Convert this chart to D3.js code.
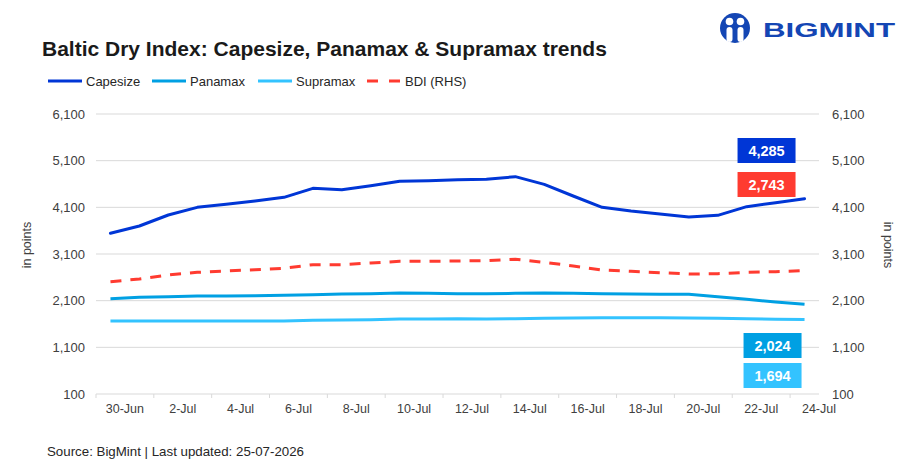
<!DOCTYPE html>
<html>
<head>
<meta charset="utf-8">
<script src="https://cdn.jsdelivr.net/npm/d3@7"></script>
<style>
  body { margin: 0; background: #fff; }
  svg text { font-family: "Liberation Sans", Arial, sans-serif; }
</style>
</head>
<body>
<div id="chart"></div>
<script>
// dates on the category axis
var dates = ["30-Jun","1-Jul","2-Jul","3-Jul","4-Jul","5-Jul","6-Jul","7-Jul","8-Jul","9-Jul",
  "10-Jul","11-Jul","12-Jul","13-Jul","14-Jul","15-Jul","16-Jul","17-Jul","18-Jul","19-Jul",
  "20-Jul","21-Jul","22-Jul","23-Jul","24-Jul"];

var capesize = [3543,3700,3936,4100,4164,4236,4314,4507,4479,4564,4657,4671,4693,4700,4757,
  4593,4343,4100,4021,3957,3893,3929,4114,4200,4285];
var panamax = [2143,2171,2186,2200,2200,2207,2214,2229,2243,2250,2264,2257,2250,2250,2257,
  2264,2257,2250,2243,2236,2236,2186,2129,2071,2024];
var supramax = [1664,1664,1664,1664,1664,1664,1664,1679,1686,1693,1707,1707,1714,1707,1714,
  1721,1729,1736,1736,1736,1729,1721,1714,1700,1694];
var bdi = [2507,2564,2650,2707,2736,2764,2793,2871,2871,2907,2943,2943,2950,2957,2986,
  2921,2843,2757,2729,2700,2671,2679,2707,2721,2743];

var yTicks = [100,1100,2100,3100,4100,5100,6100];

var colCape = "#0036d6", colPana = "#00a0e3", colSupra = "#33c3ff", colBdi = "#ff3b30";

var width = 911, height = 471;

var svg = d3.select("#chart").append("svg")
  .attr("width", width)
  .attr("height", height);

var x = d3.scaleBand()
  .domain(dates)
  .range([96, 819]);

var y = d3.scaleLinear()
  .domain([100, 6100])
  .range([394, 114]);

// right axis uses same range
var y2 = d3.scaleLinear()
  .domain([100, 6100])
  .range([394, 114]);

var fmt = d3.format(",");

// gridlines
svg.append("g")
  .selectAll("line")
  .data(yTicks.slice(1))
  .enter().append("line")
  .attr("x1", 96)
  .attr("x2", 819)
  .attr("y1", function(d){ return y(d); })
  .attr("y2", function(d){ return y(d); })
  .attr("stroke", "#d9d9d9")
  .attr("stroke-width", 1);

// x axis baseline + ticks every 2 categories
var xg = svg.append("g");
xg.append("line")
  .attr("x1", 96).attr("x2", 819)
  .attr("y1", y(100)).attr("y2", y(100))
  .attr("stroke", "#d9d9d9");

var evenDates = dates.filter(function(d, i){ return i % 2 == 0; });

xg.selectAll(".tk")
  .data(evenDates)
  .enter().append("line")
  .attr("class", "tk")
  .attr("x1", function(d){ return x(d); })
  .attr("x2", function(d){ return x(d); })
  .attr("y1", y(100))
  .attr("y2", y(100) + 4)
  .attr("stroke", "#d9d9d9");

xg.selectAll(".xl")
  .data(evenDates)
  .enter().append("text")
  .attr("class", "xl")
  .attr("x", function(d){ return x(d) + x.step(); })
  .attr("y", 413)
  .attr("text-anchor", "middle")
  .style("font-size", "12.5px")
  .attr("fill", "#404040")
  .text(function(d){ return d; });

// left axis labels
svg.append("g")
  .selectAll("text")
  .data(yTicks)
  .enter().append("text")
  .attr("x", 85)
  .attr("y", function(d){ return y(d) + 4.5; })
  .attr("text-anchor", "end")
  .style("font-size", "13px")
  .attr("fill", "#404040")
  .text(function(d){ return fmt(d); });

// right axis labels
svg.append("g")
  .selectAll("text")
  .data(yTicks)
  .enter().append("text")
  .attr("x", 832)
  .attr("y", function(d){ return y2(d) + 4.5; })
  .attr("text-anchor", "start")
  .style("font-size", "13px")
  .attr("fill", "#404040")
  .text(function(d){ return fmt(d); });

// axis titles
svg.append("text")
  .attr("transform", "translate(31,245) rotate(-90)")
  .attr("text-anchor", "middle")
  .style("font-size", "12.5px")
  .attr("fill", "#404040")
  .text("in points");

svg.append("text")
  .attr("transform", "translate(884,245) rotate(90)")
  .attr("text-anchor", "middle")
  .style("font-size", "12.5px")
  .attr("fill", "#404040")
  .text("in points");

// lines
function cx(i){ return x(dates[i]) + x.bandwidth() / 2; }

var line = d3.line()
  .x(function(d, i){ return cx(i); })
  .y(function(d){ return y(d); });

var line2 = d3.line()
  .x(function(d, i){ return cx(i); })
  .y(function(d){ return y2(d); });

svg.append("path").datum(supramax)
  .attr("d", line).attr("fill", "none")
  .attr("stroke", colSupra).attr("stroke-width", 3);

svg.append("path").datum(panamax)
  .attr("d", line).attr("fill", "none")
  .attr("stroke", colPana).attr("stroke-width", 3);

svg.append("path").datum(capesize)
  .attr("d", line).attr("fill", "none")
  .attr("stroke", colCape).attr("stroke-width", 3)
  .attr("stroke-linejoin", "round").attr("stroke-linecap", "round");

svg.append("path").datum(bdi)
  .attr("d", line2).attr("fill", "none")
  .attr("stroke", colBdi).attr("stroke-width", 3)
  .attr("stroke-dasharray", "11,9");

// last-value boxes
var last = dates.length - 1;
var boxes = [
  { v: capesize[last], c: colCape, dx: -67, y: 138 },
  { v: bdi[last], c: colBdi, dx: -67, y: 172 },
  { v: panamax[last], c: colPana, dx: -61, y: 333 },
  { v: supramax[last], c: colSupra, dx: -61, y: 363 }
];

var bx = svg.append("g").selectAll("g")
  .data(boxes)
  .enter().append("g");

bx.append("rect")
  .attr("x", function(d){ return cx(last) + d.dx; })
  .attr("y", function(d){ return d.y; })
  .attr("width", 58)
  .attr("height", 25)
  .attr("fill", function(d){ return d.c; });

bx.append("text")
  .attr("x", function(d){ return cx(last) + d.dx + 29; })
  .attr("y", function(d){ return d.y + 17.5; })
  .attr("text-anchor", "middle")
  .style("font-size", "14.5px")
  .style("font-weight", "bold")
  .attr("fill", "#fff")
  .text(function(d){ return fmt(d.v); });

// title
svg.append("text")
  .attr("x", 42)
  .attr("y", 56)
  .style("font-size", "21px")
  .style("font-weight", "bold")
  .attr("fill", "#1a1a1a")
  .text("Baltic Dry Index: Capesize, Panamax & Supramax trends");

// legend
var legend = [
  { name: "Capesize", c: colCape, x: 48, dash: null },
  { name: "Panamax", c: colPana, x: 152, dash: null },
  { name: "Supramax", c: colSupra, x: 258, dash: null },
  { name: "BDI (RHS)", c: colBdi, x: 367, dash: "11,11" }
];

var lg = svg.append("g").selectAll("g")
  .data(legend)
  .enter().append("g");

lg.append("line")
  .attr("x1", function(d){ return d.x; })
  .attr("x2", function(d){ return d.x + 34; })
  .attr("y1", 81).attr("y2", 81)
  .attr("stroke", function(d){ return d.c; })
  .attr("stroke-width", 3)
  .attr("stroke-dasharray", function(d){ return d.dash; });

lg.append("text")
  .attr("x", function(d){ return d.x + 38; })
  .attr("y", 85.5)
  .style("font-size", "13px")
  .attr("fill", "#262626")
  .text(function(d){ return d.name; });

// source
svg.append("text")
  .attr("x", 47)
  .attr("y", 456)
  .style("font-size", "13.3px")
  .attr("fill", "#262626")
  .text("Source: BigMint | Last updated: 25-07-2026");

// logo
var logo = svg.append("g");
logo.append("circle")
  .attr("cx", 735).attr("cy", 28).attr("r", 15)
  .attr("fill", "#1446b4");
logo.append("circle").attr("cx", 729.5).attr("cy", 21.5).attr("r", 3.8).attr("fill", "#fff");
logo.append("circle").attr("cx", 740.5).attr("cy", 21.5).attr("r", 3.8).attr("fill", "#fff");
logo.append("rect").attr("x", 726.5).attr("y", 27).attr("width", 6).attr("height", 15).attr("rx", 3).attr("fill", "#fff");
logo.append("rect").attr("x", 737.5).attr("y", 27).attr("width", 6).attr("height", 15).attr("rx", 3).attr("fill", "#fff");
logo.append("text")
  .attr("x", 763)
  .attr("y", 37)
  .style("font-size", "21px")
  .style("font-weight", "bold")
  .attr("textLength", 132)
  .attr("lengthAdjust", "spacingAndGlyphs")
  .attr("fill", "#1446b4")
  .text("BIGMINT");
</script>
</body>
</html>
